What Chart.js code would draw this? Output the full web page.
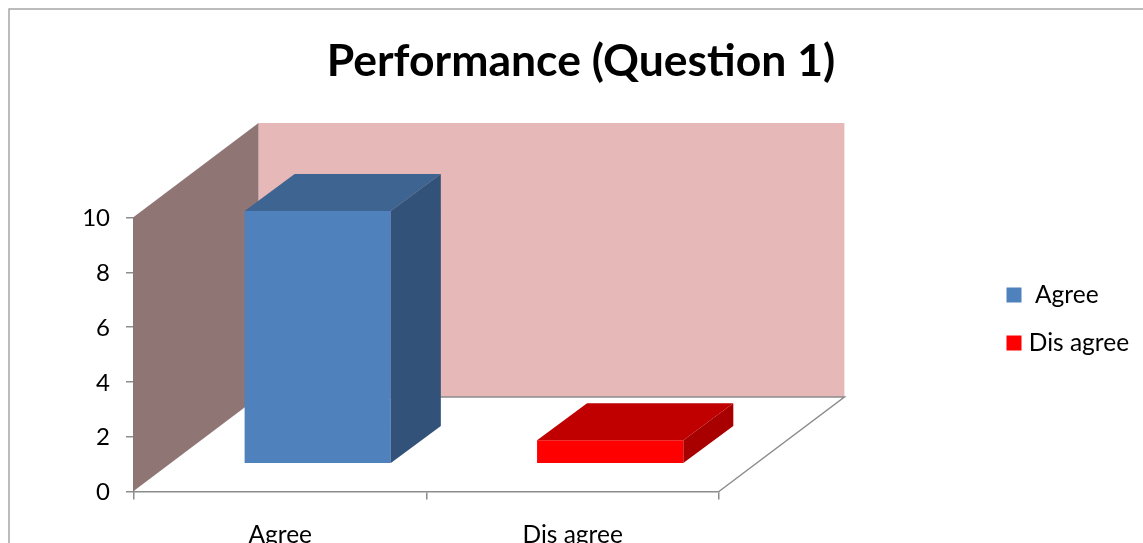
<!DOCTYPE html>
<html><head><meta charset="utf-8">
<style>html,body{margin:0;padding:0;background:#fff;overflow:hidden}canvas{display:block}</style>
<script src="https://cdn.jsdelivr.net/npm/chart.js@4"></script>
</head><body><canvas id="c" width="1143" height="543"></canvas>
<script>
const chartTitle = 'Performance (Question 1)';
const categories = ['Agree', 'Dis agree'];
const legendLabels = [' Agree', 'Dis agree'];
const values = [10, 0.9];
const yTicks = [0, 2, 4, 6, 8, 10];
const barColors = ['#4F81BD', '#FF0000'];
const topColors = ['#3E6491', '#C00000'];
const sideColors = ['#33527A', '#A80000'];
const WALL_SIDE = '#907575', WALL_BACK = '#E6B8B7', EDGE = '#8C8C8C';
const FONT = 'Lato, Carlito, Calibri, sans-serif';

const depth3d = {
  id: 'depth3d',
  beforeDraw(chart) {
    const c = chart.ctx;
    c.save();
    c.fillStyle = '#fff';
    c.fillRect(0, 0, chart.width, chart.height);
    c.strokeStyle = '#A6A6A6';
    c.lineWidth = 1.5;
    c.strokeRect(9, 9, chart.width + 30, chart.height + 30);
    c.restore();
  },
  afterLayout(chart) {
    const l = chart.legend;
    const h = l.bottom - l.top;
    l.left = 988; l.right = 1143;
    l.top = 319 - h / 2; l.bottom = l.top + h;
    chart.titleBlock.left = 0;
    chart.titleBlock.right = 1162;
  },
  beforeDatasetsDraw(chart) {
    const c = chart.ctx, a = chart.chartArea, dx = 124.5, dy = 94.5;
    const poly = (pts, fill) => {
      c.beginPath();
      pts.forEach((p, i) => i ? c.lineTo(p[0], p[1]) : c.moveTo(p[0], p[1]));
      c.closePath();
      c.fillStyle = fill;
      c.fill();
    };
    c.save();
    poly([[a.left + dx, a.top - dy], [a.right + dx + 1, a.top - dy], [a.right + dx + 1, a.bottom - dy], [a.left + dx, a.bottom - dy]], WALL_BACK);
    poly([[a.left - 1, a.top], [a.left + dx, a.top - dy], [a.left + dx, a.bottom - dy], [a.left - 1, a.bottom]], WALL_SIDE);
    c.strokeStyle = EDGE;
    c.lineWidth = 1.5;
    c.beginPath();
    c.moveTo(a.left + dx, a.bottom - dy);
    c.lineTo(a.right + dx + 1, a.bottom - dy);
    c.lineTo(a.right, a.bottom);
    c.stroke();
    c.restore();
  },
  beforeDatasetDraw(chart) {
    chart.ctx.save();
    chart.ctx.translate(37.5, 0);
  },
  afterDatasetDraw(chart, args) {
    const c = chart.ctx, dx = 50, dy = 37;
    args.meta.data.forEach((bar, i) => {
      const p = bar.getProps(['x', 'y', 'base', 'width'], true);
      const l = p.x - p.width / 2, r = p.x + p.width / 2;
      c.fillStyle = topColors[i];
      c.beginPath();
      c.moveTo(l, p.y); c.lineTo(l + dx, p.y - dy); c.lineTo(r + dx, p.y - dy); c.lineTo(r, p.y);
      c.closePath(); c.fill();
      c.fillStyle = sideColors[i];
      c.beginPath();
      c.moveTo(r, p.y); c.lineTo(r + dx, p.y - dy); c.lineTo(r + dx, p.base - dy); c.lineTo(r, p.base);
      c.closePath(); c.fill();
    });
    c.restore();
  }
};

new Chart(document.getElementById('c'), {
  type: 'bar',
  plugins: [depth3d],
  data: {
    labels: categories,
    datasets: [{
      data: values,
      yAxisID: 'yBar',
      backgroundColor: barColors,
      categoryPercentage: 1,
      barPercentage: 0.5,
      borderWidth: 0,
      clip: false
    }]
  },
  options: {
    responsive: false,
    animation: false,
    devicePixelRatio: 1,
    layout: { padding: { left: 0, right: 273, top: 0, bottom: 0 } },
    plugins: {
      tooltip: { enabled: false },
      title: {
        display: true,
        text: chartTitle,
        color: '#000',
        font: { family: FONT, size: 44.5, weight: 'bold', lineHeight: 1.2 },
        padding: { top: 35, bottom: 129.1 }
      },
      legend: {
        position: 'right',
        onClick: null,
        labels: {
          font: { family: FONT, size: 24.5 },
          color: '#000',
          boxWidth: 5,
          boxHeight: 5,
          padding: 23.5,
          generateLabels: () => legendLabels.map((t, i) => ({
            text: t, fillStyle: barColors[i], strokeStyle: barColors[i], lineWidth: 10, index: i
          }))
        }
      }
    },
    scales: {
      x: {
        offset: true,
        grid: { offset: true, drawOnChartArea: false, color: EDGE, tickLength: 8, lineWidth: 1.5 },
        border: { color: EDGE, width: 1.5 },
        ticks: { color: '#000', font: { family: FONT, size: 24.5 }, padding: 21, maxRotation: 0 },
        afterFit(s) { s.height = 51.5; }
      },
      y: {
        min: 0, max: 10,
        position: 'left',
        grid: { drawOnChartArea: false, color: EDGE, tickLength: 8, lineWidth: 1.5 },
        border: { color: EDGE, width: 1.5 },
        afterBuildTicks(s) { s.ticks = yTicks.map(v => ({ value: v })); },
        ticks: { color: '#000', font: { family: FONT, size: 24 }, padding: 16, labelOffset: 1 },
        afterFit(s) { s.width = 134; }
      },
      yBar: {
        display: false,
        position: 'left',
        min: -1.131,
        max: 9.742
      }
    }
  }
});
</script></body></html>
